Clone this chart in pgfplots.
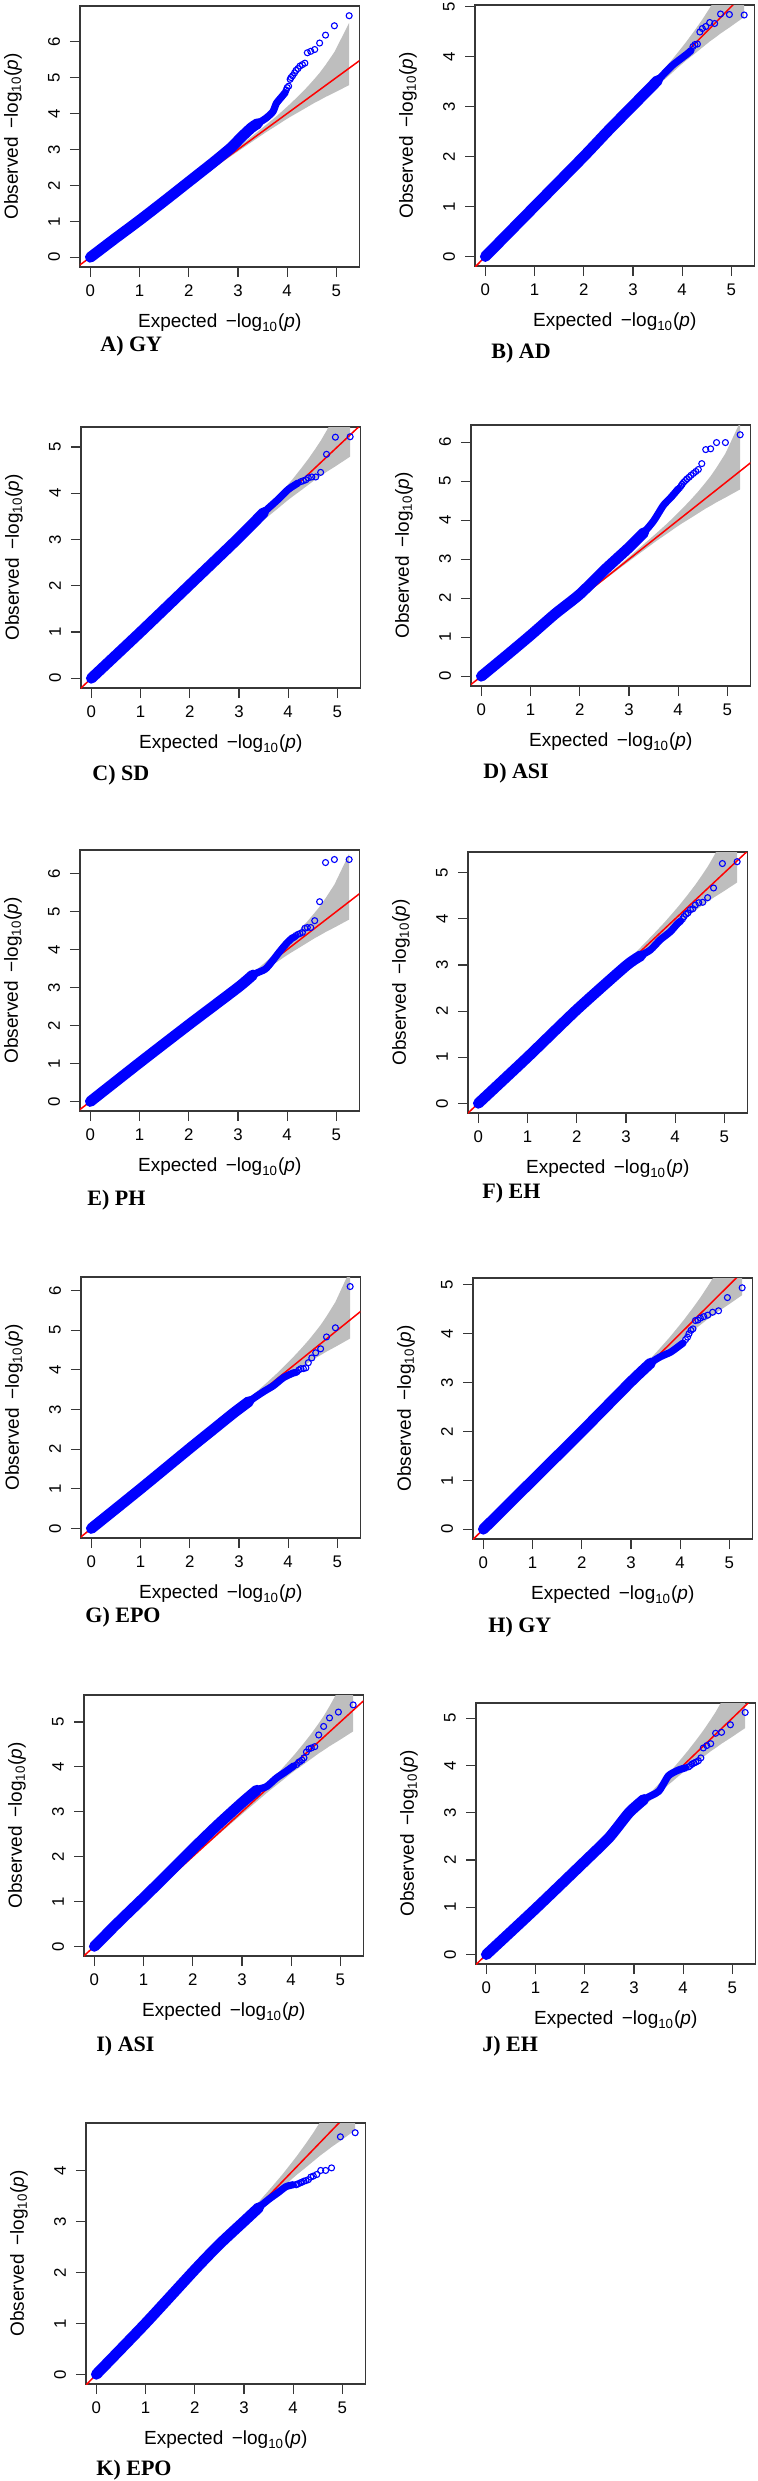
\documentclass[border=0pt]{standalone}
\usepackage{fontspec}
\setmainfont{Liberation Sans}
\newfontfamily\lserif{Liberation Serif}
\usepackage{pgfplots}
\pgfplotsset{compat=1.18}
\definecolor{bandgray}{RGB}{190,190,190}
\definecolor{boxgray}{RGB}{55,55,55}
\definecolor{qqblue}{RGB}{0,0,255}
\definecolor{qqred}{RGB}{255,0,0}
\pgfplotsset{
  qq/.style={
    scale only axis, width=139.75pt, height=130.5pt,
    anchor=north west,
    xmin=-0.21, xmax=5.47,
    xtick={0,1,2,3,4,5},
    axis line style={boxgray, line width=0.6pt},
    tick align=outside, major tick length=5pt,
    tick style={boxgray, line width=0.6pt},
    tick pos=left,
    /pgf/number format/assume math mode=true,
    ticklabel style={font=\fontsize{8.4pt}{9pt}\selectfont, inner sep=0pt},
    xticklabel style={anchor=center},
    yticklabel style={rotate=90, anchor=center},
    xticklabel shift=7pt, yticklabel shift=8pt,
    xlabel={Expected\hspace{0.45em}−log\textsubscript{10}(\textit{p})},
    ylabel={Observed\hspace{0.45em}−log\textsubscript{10}(\textit{p})},
    label style={font=\fontsize{9.5pt}{11pt}\selectfont},
    x label style={at={(axis description cs:0.5,-0.2146)}, anchor=center},
    y label style={at={(axis description cs:-0.240,0.5)}, anchor=center},
    clip=true,
  },
  dense/.style={qqblue, line width=3.6pt, line cap=round, line join=round, smooth, tension=0.4},
  thick/.style={qqblue, line width=5.4pt, line cap=round, line join=round, smooth, tension=0.4},
  tail/.style={only marks, mark=o, mark size=1.5pt, mark options={qqblue, line width=0.55pt}},
}
\newcommand{\common}{%
  \addplot[fill=bandgray, draw=none] coordinates {
    (2.26,2.28)(2.78,2.82)(3.26,3.34)(3.56,3.67)(3.78,3.92)(3.96,4.14)(4.08,4.29)
    (4.26,4.53)(4.41,4.74)(4.56,4.97)(4.66,5.13)(4.78,5.35)(4.96,5.71)(5.26,6.52)
    (5.26,4.79)(4.96,4.58)(4.78,4.46)(4.66,4.37)(4.56,4.30)(4.41,4.18)(4.26,4.06)
    (4.08,3.92)(3.96,3.82)(3.78,3.66)(3.56,3.47)(3.26,3.19)(2.78,2.74)(2.26,2.24)};
  \addplot[qqred, line width=0.75pt] coordinates {(-0.5,-0.5)(7.5,7.5)};
}
\newcommand{\plabel}[3]{\node[anchor=west, inner sep=0pt, font=\lserif\bfseries\fontsize{11pt}{13pt}\selectfont] at (#1pt,#2pt) {#3};}
\begin{document}
\begin{tikzpicture}
\useasboundingbox (0,0) rectangle (378.5pt,-1240.5pt);

% A
\begin{axis}[qq, at={(40pt,-3pt)}, ymin=-0.27, ymax=6.99, ytick={0,...,6}]
\common
\addplot[thick] coordinates {(0,0)(0.5,0.52)(1,1.03)(1.5,1.56)(2.0,2.1)(2.5,2.64)(2.86,3.05)(3.06,3.33)(3.27,3.6)(3.4,3.72)};
\addplot[dense] coordinates {(0,0)(0.5,0.52)(1,1.03)(1.5,1.56)(2.0,2.1)(2.5,2.64)(2.86,3.05)(3.06,3.33)(3.27,3.6)(3.4,3.72)(3.57,3.87)(3.71,4.05)(3.78,4.28)(3.88,4.45)(3.96,4.58)};
\addplot[tail] coordinates {(5.26,6.72)(4.96,6.44)(4.78,6.18)(4.66,5.96)(4.56,5.78)(4.48,5.73)(4.41,5.69)(4.36,5.40)(4.31,5.36)(4.26,5.32)(4.22,5.25)(4.18,5.2)(4.15,5.13)(4.11,5.05)(4.08,5.0)(4.06,4.95)(4.03,4.76)(4.00,4.72)(3.98,4.65)};
\end{axis}
\plabel{50}{-173}{A) GY}

% B
\begin{axis}[qq, at={(237.5pt,-2.5pt)}, ymin=-0.19, ymax=5.03, ytick={0,...,5}]
\common
\addplot[thick] coordinates {(0,0)(1,1.0)(2,2.0)(2.5,2.52)(3,3.02)(3.5,3.52)};
\addplot[dense] coordinates {(0,0)(1,1.0)(2,2.0)(2.5,2.52)(3,3.02)(3.5,3.52)(3.8,3.82)(4.1,4.05)(4.18,4.12)};
\addplot[tail] coordinates {(5.26,4.83)(4.96,4.84)(4.78,4.85)(4.66,4.66)(4.56,4.68)(4.48,4.6)(4.41,4.56)(4.36,4.49)(4.31,4.25)(4.26,4.24)(4.22,4.2)};
\end{axis}
\plabel{245.5}{-176.5}{B) AD}

% C
\begin{axis}[qq, at={(40.5pt,-213.5pt)}, ymin=-0.21, ymax=5.43, ytick={0,...,5}]
\common
\addplot[thick] coordinates {(0,0)(1,1.0)(2,2.02)(3,3.04)(3.5,3.58)};
\addplot[dense] coordinates {(0,0)(1,1.0)(2,2.02)(3,3.04)(3.5,3.58)(3.8,3.87)(4.0,4.08)(4.2,4.22)};
\addplot[tail] coordinates {(5.26,5.22)(4.96,5.21)(4.78,4.84)(4.66,4.45)(4.56,4.35)(4.48,4.35)(4.41,4.33)(4.36,4.29)(4.31,4.27)(4.26,4.25)};
\end{axis}
\plabel{46}{-387.5}{C) SD}

% D
\begin{axis}[qq, at={(235.5pt,-212.5pt)}, ymin=-0.25, ymax=6.44, ytick={0,...,6}]
\common
\addplot[thick] coordinates {(0,0)(0.5,0.52)(1,1.05)(1.5,1.6)(2.0,2.1)(2.5,2.72)(3.0,3.3)(3.3,3.68)};
\addplot[dense] coordinates {(0,0)(0.5,0.52)(1,1.05)(1.5,1.6)(2.0,2.1)(2.5,2.72)(3.0,3.3)(3.3,3.68)(3.5,3.98)(3.7,4.38)(3.85,4.58)(4.0,4.8)};
\addplot[tail] coordinates {(5.26,6.19)(4.96,5.99)(4.78,5.99)(4.66,5.83)(4.56,5.81)(4.48,5.45)(4.41,5.3)(4.36,5.25)(4.31,5.2)(4.26,5.15)(4.22,5.1)(4.18,5.06)(4.15,5.02)(4.11,4.97)(4.08,4.92)(4.06,4.88)(4.03,4.83)};
\end{axis}
\plabel{241.5}{-386.5}{D) ASI}

% E
\begin{axis}[qq, at={(40pt,-425pt)}, ymin=-0.25, ymax=6.62, ytick={0,...,6}]
\common
\addplot[thick] coordinates {(0,0)(1,1.02)(2,2.02)(3,3.0)(3.3,3.33)};
\addplot[dense] coordinates {(0,0)(1,1.02)(2,2.02)(3,3.0)(3.3,3.33)(3.55,3.48)(3.7,3.7)(3.85,3.95)(4.0,4.18)(4.1,4.3)(4.15,4.33)};
\addplot[tail] coordinates {(5.26,6.37)(4.96,6.37)(4.78,6.29)(4.66,5.26)(4.56,4.76)(4.48,4.58)(4.41,4.58)(4.36,4.56)(4.31,4.45)(4.26,4.42)(4.22,4.4)(4.18,4.37)};
\end{axis}
\plabel{43.5}{-600}{E) PH}

% F
\begin{axis}[qq, at={(234pt,-426pt)}, ymin=-0.21, ymax=5.45, ytick={0,...,5}]
\common
\addplot[thick] coordinates {(0,0)(1,1.0)(2,2.03)(3,2.98)(3.3,3.2)};
\addplot[dense] coordinates {(0,0)(1,1.0)(2,2.03)(3,2.98)(3.3,3.2)(3.5,3.33)(3.7,3.55)(3.9,3.72)(4.05,3.9)(4.11,3.95)};
\addplot[tail] coordinates {(5.26,5.24)(4.96,5.2)(4.78,4.67)(4.66,4.46)(4.56,4.36)(4.48,4.35)(4.41,4.3)(4.36,4.22)(4.31,4.2)(4.26,4.13)(4.22,4.1)(4.18,4.05)(4.15,4.0)};
\end{axis}
\plabel{241}{-596.5}{F) EH}

% G
\begin{axis}[qq, at={(40.5pt,-638.5pt)}, ymin=-0.24, ymax=6.34, ytick={0,...,6}]
\common
\addplot[thick] coordinates {(0,0)(1,1.0)(2,2.02)(2.5,2.52)(2.9,2.92)(3.2,3.2)};
\addplot[dense] coordinates {(0,0)(1,1.0)(2,2.02)(2.5,2.52)(2.9,2.92)(3.2,3.2)(3.5,3.45)(3.7,3.6)(3.9,3.8)(4.1,3.92)(4.15,3.93)};
\addplot[tail] coordinates {(5.26,6.1)(4.96,5.06)(4.78,4.83)(4.66,4.53)(4.56,4.43)(4.48,4.3)(4.41,4.18)(4.36,4.05)(4.31,4.03)(4.26,4.03)(4.22,4.0)(4.18,3.95)};
\end{axis}
\plabel{42.5}{-808.5}{G) EPO}

% H
\begin{axis}[qq, at={(236.5pt,-639pt)}, ymin=-0.2, ymax=5.14, ytick={0,...,5}]
\common
\addplot[thick] coordinates {(0,0)(1,1.0)(2,2.0)(3,3.02)(3.4,3.4)};
\addplot[dense] coordinates {(0,0)(1,1.0)(2,2.0)(3,3.02)(3.4,3.4)(3.6,3.53)(3.8,3.62)(3.94,3.72)(4.06,3.81)};
\addplot[tail] coordinates {(5.26,4.94)(4.96,4.74)(4.78,4.47)(4.66,4.44)(4.56,4.38)(4.48,4.35)(4.41,4.32)(4.36,4.28)(4.31,4.27)(4.26,4.1)(4.22,4.07)(4.18,4.0)(4.15,3.93)(4.11,3.88)};
\end{axis}
\plabel{244}{-813.5}{H) GY}

% I
\begin{axis}[qq, at={(42pt,-847.5pt)}, ymin=-0.215, ymax=5.6, ytick={0,...,5}]
\common
\addplot[thick] coordinates {(0,0)(0.5,0.55)(1,1.08)(1.5,1.62)(2,2.17)(2.5,2.7)(3,3.2)(3.3,3.48)};
\addplot[dense] coordinates {(0,0)(0.5,0.55)(1,1.08)(1.5,1.62)(2,2.17)(2.5,2.7)(3,3.2)(3.3,3.48)(3.5,3.56)(3.7,3.75)(3.9,3.9)(4.05,4.02)};
\addplot[tail] coordinates {(5.26,5.38)(4.96,5.22)(4.78,5.09)(4.66,4.9)(4.56,4.71)(4.48,4.45)(4.41,4.42)(4.36,4.4)(4.31,4.33)(4.26,4.2)(4.22,4.15)(4.18,4.12)(4.15,4.1)(4.11,4.05)};
\end{axis}
\plabel{48}{-1023}{I) ASI}

% J
\begin{axis}[qq, at={(238pt,-851.5pt)}, ymin=-0.2, ymax=5.32, ytick={0,...,5}]
\common
\addplot[thick] coordinates {(0,0)(1,0.97)(2,1.97)(2.5,2.48)(2.9,3.0)(3.2,3.28)};
\addplot[dense] coordinates {(0,0)(1,0.97)(2,1.97)(2.5,2.48)(2.9,3.0)(3.2,3.28)(3.5,3.45)(3.7,3.78)(3.9,3.9)(4.05,3.95)};
\addplot[tail] coordinates {(5.26,5.12)(4.96,4.86)(4.78,4.7)(4.66,4.68)(4.56,4.46)(4.48,4.42)(4.41,4.37)(4.36,4.16)(4.31,4.1)(4.26,4.07)(4.22,4.05)(4.18,4.03)(4.15,4.0)(4.11,3.97)};
\end{axis}
\plabel{241}{-1023}{J) EH}

% K
\begin{axis}[qq, at={(43pt,-1061.5pt)}, ymin=-0.19, ymax=4.93, ytick={0,...,4}]
\common
\addplot[thick] coordinates {(0,0)(1,1.0)(2,2.05)(2.5,2.55)(3.0,3.0)(3.3,3.27)};
\addplot[dense] coordinates {(0,0)(1,1.0)(2,2.05)(2.5,2.55)(3.0,3.0)(3.3,3.27)(3.5,3.43)(3.7,3.57)(3.85,3.68)(4.0,3.72)};
\addplot[tail] coordinates {(5.26,4.74)(4.96,4.66)(4.78,4.05)(4.66,4.0)(4.56,4.0)(4.48,3.92)(4.41,3.89)(4.36,3.87)(4.31,3.82)(4.26,3.8)(4.22,3.79)(4.18,3.77)(4.15,3.76)(4.11,3.74)(4.08,3.73)(4.06,3.72)};
\end{axis}
\plabel{48}{-1235}{K) EPO}

\end{tikzpicture}
\end{document}
